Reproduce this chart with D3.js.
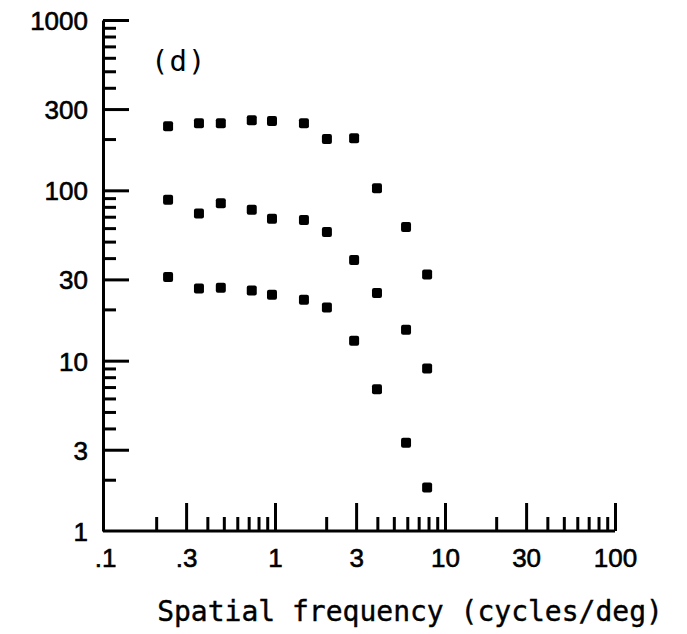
<!DOCTYPE html>
<html>
<head>
<meta charset="utf-8">
<script src="https://cdn.jsdelivr.net/npm/d3@7"></script>
<style>
  body { margin: 0; background: #fff; }
  svg { display: block; }
  .axis path, .axis line { stroke: #000; stroke-width: 3; }
  .axis text { font-family: "Liberation Sans", Arial, sans-serif; font-size: 26px; fill: #000; stroke: #000; stroke-width: 0.6; }
</style>
</head>
<body>
<div id="chart"></div>
<script>
// spatial frequency (cycles/deg), shared by the three curves
const freq = [0.235, 0.357, 0.48, 0.73, 0.96, 1.48, 2.02, 2.92, 3.98, 5.9, 7.85];
// contrast sensitivity
const upper = [238, 248, 248, 258, 255, 248, 200, 202, 103, 61, 32];
const middle = [88, 73, 84, 77, 68, 67, 57, 39, 25, 15.2, 9.0];
const lower = [31, 26.5, 26.8, 25.8, 24.4, 22.8, 20.5, 13.1, 6.8, 3.3, 1.8];

const xMajor = [0.1, 0.3, 1, 3, 10, 30, 100];
const xLabels = [".1", ".3", "1", "3", "10", "30", "100"];
const yMajor = [1, 3, 10, 30, 100, 300, 1000];
const yLabels = ["1", "3", "10", "30", "100", "300", "1000"];

const width = 687,
  height = 634;

const svg = d3
  .select("#chart")
  .append("svg")
  .attr("width", width)
  .attr("height", height);

const x = d3.scaleLog().domain([0.1, 100]).range([105, 615]);
const y = d3.scaleLog().domain([1, 1000]).range([531, 20]);

// minor ticks 2..9 in each decade, leaving out the majors
const minorOf = (lo, hi, majors) => {
  const out = [];
  for (let d = lo; d < hi; d *= 10) {
    for (let k = 2; k <= 9; k++) {
      const v = +(d * k).toPrecision(3);
      if (!majors.includes(v)) out.push(v);
    }
  }
  return out;
};
const xMinor = minorOf(0.1, 100, xMajor);
const yMinor = minorOf(1, 1000, yMajor);

// y axis: ticks point inward (to the right)
svg
  .append("g")
  .attr("class", "axis")
  .attr("transform", "translate(103,0)")
  .call(d3.axisRight(y).tickValues(yMinor).tickSize(13).tickSizeOuter(0).tickFormat(""));
svg
  .append("g")
  .attr("class", "axis")
  .attr("transform", "translate(103,0)")
  .call(d3.axisRight(y).tickValues(yMajor.slice(1)).tickSize(26).tickFormat(""))
  .select(".domain")
  .remove();
svg
  .append("g")
  .attr("class", "axis")
  .attr("transform", "translate(103,0)")
  .call(
    d3
      .axisLeft(y)
      .tickValues(yMajor)
      .tickSize(0)
      .tickPadding(15)
      .tickFormat((d, i) => yLabels[i])
  )
  .call((g) => g.select(".domain").remove())
  .selectAll("text")
  .attr("dy", "0.36em");

// x axis: ticks point up
svg
  .append("g")
  .attr("class", "axis")
  .attr("transform", "translate(0,531)")
  .call(d3.axisTop(x).tickValues(xMinor).tickSize(14).tickSizeOuter(0).tickFormat(""))
  .select(".domain")
  .attr("d", `M103,0H${x(100)}`);
svg
  .append("g")
  .attr("class", "axis")
  .attr("transform", "translate(0,531)")
  .call(d3.axisTop(x).tickValues(xMajor.slice(1)).tickSize(28).tickFormat(""))
  .select(".domain")
  .remove();
svg
  .append("g")
  .attr("class", "axis")
  .attr("transform", "translate(0,531)")
  .call(
    d3
      .axisBottom(x)
      .tickValues(xMajor)
      .tickSize(0)
      .tickPadding(18)
      .tickFormat((d, i) => xLabels[i])
  )
  .select(".domain")
  .remove();

// data points
const series = [upper, middle, lower];
const pts = series.flatMap((s) => s.map((v, i) => ({ f: freq[i], v })));
const size = 10;
svg
  .append("g")
  .selectAll("rect")
  .data(pts)
  .join("rect")
  .attr("x", (d) => x(d.f) - size / 2)
  .attr("y", (d) => y(d.v) - size / 2)
  .attr("width", size)
  .attr("height", size)
  .attr("rx", 2)
  .attr("fill", "#000");

// panel label
svg
  .append("text")
  .attr("x", 151)
  .attr("y", 71)
  .style("font-family", "DejaVu Sans Mono, monospace")
  .style("font-size", "29px")
  .style("letter-spacing", "1px")
  .text("(d)");

// axis title
svg
  .append("text")
  .attr("x", 410)
  .attr("y", 621)
  .attr("text-anchor", "middle")
  .style("font-family", "DejaVu Sans Mono, monospace")
  .style("font-size", "28px")
  .style("stroke", "#000")
  .style("stroke-width", 0.4)
  .text("Spatial frequency (cycles/deg)");
</script>
</body>
</html>
